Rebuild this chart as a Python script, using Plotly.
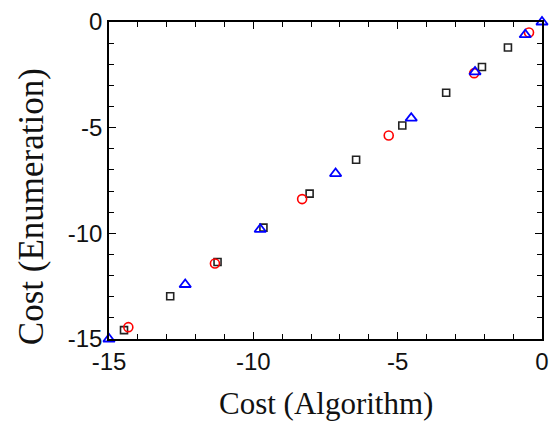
import plotly.graph_objects as go

# Cost found by the algorithm vs. cost found by exhaustive enumeration
sq_x = [-14.48, -12.88, -11.24, -9.65, -8.05, -6.44, -4.84, -3.32, -2.08, -1.18]
sq_y = [-14.58, -12.98, -11.36, -9.73, -8.12, -6.52, -4.90, -3.35, -2.13, -1.21]

ci_x = [-14.33, -11.33, -8.31, -5.31, -2.35, -0.45]
ci_y = [-14.44, -11.43, -8.38, -5.37, -2.42, -0.50]

tr_x = [-15.0, -12.36, -9.76, -7.15, -4.53, -2.32, -0.58, 0.0]
tr_y = [-15.0, -12.42, -9.81, -7.17, -4.55, -2.36, -0.60, 0.0]

tick_vals = [-15, -10, -5, 0]
tick_text = ["-15", "-10", "-5", "0"]

x_title = "Cost (Algorithm)"
y_title = "Cost (Enumeration)"

fig = go.Figure()

fig.add_trace(go.Scatter(
    x=sq_x, y=sq_y, mode="markers", cliponaxis=False,
    marker=dict(symbol="square-open", size=7, color="#222222",
                line=dict(width=1.6, color="#222222")),
    showlegend=False,
))
fig.add_trace(go.Scatter(
    x=ci_x, y=ci_y, mode="markers", cliponaxis=False,
    marker=dict(symbol="circle-open", size=9, color="#ff0000",
                line=dict(width=1.6, color="#ff0000")),
    showlegend=False,
))
fig.add_trace(go.Scatter(
    x=tr_x, y=tr_y, mode="markers", cliponaxis=False,
    marker=dict(symbol="triangle-up-open", size=10, color="#0000ff",
                line=dict(width=1.8, color="#0000ff")),
    showlegend=False,
))

axis_common = dict(
    range=[-15, 0],
    showgrid=False,
    zeroline=False,
    showline=True,
    linecolor="#000000",
    linewidth=1.5,
    mirror="allticks",
    ticks="inside",
    ticklen=7,
    tickwidth=1.3,
    tickcolor="#000000",
    tickvals=tick_vals,
    ticktext=tick_text,
    tickfont=dict(family="Liberation Sans, Arial, sans-serif", size=24, color="#111111"),
    minor=dict(ticks="inside", ticklen=5, tickwidth=1.2, tickcolor="#000000", dtick=1),
)

fig.update_xaxes(**axis_common)
fig.update_yaxes(**axis_common)

title_font = dict(family="Liberation Serif, Times New Roman, serif", color="#111111")

fig.add_annotation(
    text=x_title, xref="paper", yref="paper", x=0.5, y=-0.205,
    xanchor="center", yanchor="middle", showarrow=False,
    font=dict(size=31, **title_font),
)
fig.add_annotation(
    text=y_title, xref="paper", yref="paper", x=-0.18, y=0.416,
    xanchor="center", yanchor="middle", textangle=-90, showarrow=False,
    font=dict(size=35, **title_font),
)

fig.update_layout(
    width=557, height=425,
    margin=dict(l=109, r=8, t=17, b=86),
    paper_bgcolor="white",
    plot_bgcolor="white",
)

fig.write_html("out.html")
